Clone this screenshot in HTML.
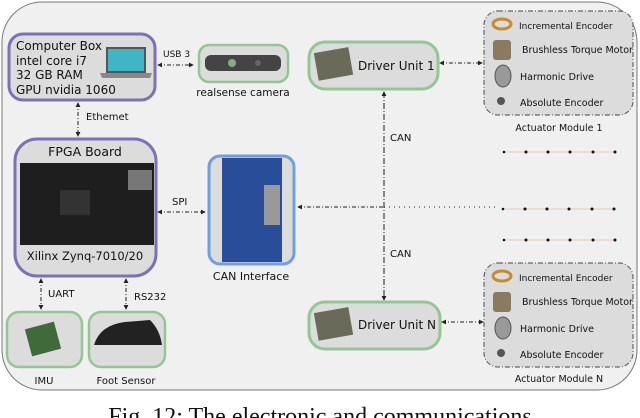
<!DOCTYPE html>
<html><head><meta charset="utf-8"><style>
html,body{margin:0;padding:0;background:#fff;width:640px;height:418px;overflow:hidden}
svg{display:block}
text{font-family:"DejaVu Sans","Liberation Sans",sans-serif;fill:#111}
</style></head><body>
<svg width="640" height="418" viewBox="0 0 640 418" xmlns="http://www.w3.org/2000/svg">
<defs>
<marker id="a" viewBox="0 0 6 6" refX="5" refY="3" markerWidth="5" markerHeight="5" orient="auto-start-reverse"><path d="M0,0L6,3L0,6z" fill="#222"/></marker>
</defs>
<rect x="2" y="2" width="635" height="388" rx="40" fill="#f0f0f0" stroke="#777" stroke-width="1"/>

<rect x="9" y="34" width="146" height="66" rx="14" fill="#dcdcdc" stroke="#7d70b5" stroke-width="3"/>
<text x="16" y="50" font-size="12" textLength="86" lengthAdjust="spacingAndGlyphs">Computer Box</text>
<text x="16" y="65" font-size="12">intel core i7</text>
<text x="16" y="79" font-size="12">32 GB RAM</text>
<text x="16" y="94" font-size="12">GPU nvidia 1060</text>
<rect x="106" y="47" width="40" height="26" fill="#555"/>
<rect x="108" y="49" width="36" height="22" fill="#3fb5c6"/>
<path d="M100,73L152,73L150,78L102,78z" fill="#888"/>
<text x="163" y="57" font-size="9">USB 3</text>
<line x1="158" y1="65" x2="193" y2="65" stroke="#222" stroke-dasharray="4,2,1,2" marker-start="url(#a)" marker-end="url(#a)"/>
<rect x="199" y="45" width="89" height="37" rx="10" fill="#dcdcdc" stroke="#94c694" stroke-width="2.5"/>
<rect x="205" y="55" width="76" height="16" rx="6" fill="#444"/>
<circle cx="232" cy="63" r="4" fill="#8a8"/><circle cx="258" cy="63" r="3" fill="#666"/>
<text x="243" y="96" font-size="10.5" text-anchor="middle">realsense camera</text>

<line x1="78" y1="103" x2="78" y2="136" stroke="#222" stroke-dasharray="4,2,1,2" marker-start="url(#a)" marker-end="url(#a)"/>
<text x="86" y="120" font-size="10">Ethemet</text>

<rect x="15" y="139" width="141" height="137" rx="22" fill="#dcdcdc" stroke="#7d70b5" stroke-width="3"/>
<text x="85" y="156" font-size="12.5" text-anchor="middle">FPGA Board</text>
<rect x="20" y="163" width="134" height="82" fill="#1e1e1e"/>
<rect x="60" y="190" width="30" height="25" fill="#333"/>
<rect x="128" y="170" width="24" height="20" fill="#777"/>
<text x="85" y="260" font-size="11.5" text-anchor="middle">Xilinx Zynq-7010/20</text>
<text x="172" y="205" font-size="10">SPI</text>
<line x1="158" y1="212" x2="205" y2="212" stroke="#222" stroke-dasharray="4,2,1,2" marker-start="url(#a)" marker-end="url(#a)"/>

<rect x="209" y="156" width="85" height="108" rx="11" fill="#dcdcdc" stroke="#6e9fe0" stroke-width="3"/>
<rect x="222" y="158" width="60" height="104" fill="#2a4d9a"/>
<rect x="264" y="185" width="16" height="40" fill="#999"/>
<text x="251" y="280" font-size="11" text-anchor="middle">CAN Interface</text>

<line x1="298" y1="207" x2="384" y2="207" stroke="#222" stroke-dasharray="4,2,1,2" marker-start="url(#a)"/>
<line x1="384" y1="207" x2="495" y2="207" stroke="#222" stroke-dasharray="1,4"/>
<line x1="384" y1="92" x2="384" y2="300" stroke="#222" stroke-dasharray="6,2,1,2" marker-start="url(#a)" marker-end="url(#a)"/>
<text x="390" y="141" font-size="10">CAN</text>
<text x="390" y="257" font-size="10">CAN</text>

<rect x="309" y="42" width="129" height="47" rx="16" fill="#dcdcdc" stroke="#94c694" stroke-width="3"/>
<rect x="316" y="50" width="35" height="28" fill="#6a6a5a" transform="rotate(-10 333 64)"/>
<text x="358" y="70" font-size="12">Driver Unit 1</text>
<line x1="440" y1="63" x2="482" y2="63" stroke="#222" stroke-dasharray="4,2,1,2" marker-start="url(#a)" marker-end="url(#a)"/>
<rect x="309" y="302" width="131" height="47" rx="16" fill="#dcdcdc" stroke="#94c694" stroke-width="3"/>
<rect x="316" y="310" width="35" height="28" fill="#6a6a5a" transform="rotate(-10 333 324)"/>
<text x="358" y="329" font-size="12">Driver Unit N</text>
<line x1="442" y1="322" x2="483" y2="322" stroke="#222" stroke-dasharray="4,2,1,2" marker-start="url(#a)" marker-end="url(#a)"/>

<g id="m1">
<rect x="484" y="11" width="149" height="104" rx="14" fill="#dcdcdc" stroke="#666" stroke-width="1.2" stroke-dasharray="5,2,1,2"/>
<ellipse cx="502" cy="24" rx="9" ry="5" fill="none" stroke="#c88a30" stroke-width="3"/>
<rect x="493" y="40" width="18" height="20" rx="3" fill="#8a7a60"/>
<ellipse cx="503" cy="76" rx="8" ry="11" fill="#999" stroke="#555"/>
<circle cx="501" cy="101" r="4" fill="#555"/>
<text x="519" y="29" font-size="9">Incremental Encoder</text>
<text x="522" y="53" font-size="9.5">Brushless Torque Motor</text>
<text x="520" y="80" font-size="9.5">Harmonic Drive</text>
<text x="520" y="106" font-size="9.5">Absolute Encoder</text>
</g>
<text x="559" y="131" font-size="9.5" text-anchor="middle">Actuator Module  1</text>
<use href="#m1" transform="translate(0,252)"/>
<text x="559" y="382" font-size="9.5" text-anchor="middle">Actuator Module  N</text>

<g stroke="#e8c8b8" stroke-width="1"><line x1="504" y1="152" x2="615" y2="152"/><line x1="503" y1="209" x2="614" y2="209"/><line x1="504" y1="240" x2="615" y2="240"/></g>
<g fill="#111">
<circle cx="504" cy="152" r="1.3"/><circle cx="526" cy="152" r="1.5"/><circle cx="548" cy="152" r="1.5"/><circle cx="570" cy="152" r="1.5"/><circle cx="593" cy="152" r="1.5"/><circle cx="615" cy="152" r="1.5"/>
<circle cx="503" cy="209" r="1.3"/><circle cx="525" cy="209" r="1.5"/><circle cx="547" cy="209" r="1.5"/><circle cx="569" cy="209" r="1.5"/><circle cx="592" cy="209" r="1.5"/><circle cx="614" cy="209" r="1.5"/>
<circle cx="504" cy="240" r="1.3"/><circle cx="526" cy="240" r="1.5"/><circle cx="548" cy="240" r="1.5"/><circle cx="570" cy="240" r="1.5"/><circle cx="593" cy="240" r="1.5"/><circle cx="615" cy="240" r="1.5"/>
</g>

<line x1="41" y1="279" x2="41" y2="309" stroke="#222" stroke-dasharray="4,2,1,2" marker-start="url(#a)" marker-end="url(#a)"/>
<text x="48" y="297" font-size="10">UART</text>
<line x1="126" y1="279" x2="126" y2="309" stroke="#222" stroke-dasharray="4,2,1,2" marker-start="url(#a)" marker-end="url(#a)"/>
<text x="134" y="300" font-size="10">RS232</text>
<rect x="7" y="312" width="75" height="55" rx="12" fill="#dcdcdc" stroke="#94c694" stroke-width="2.5"/>
<rect x="28" y="325" width="30" height="28" fill="#3f6a3a" transform="rotate(-15 43 339)"/>
<rect x="89" y="312" width="76" height="55" rx="12" fill="#dcdcdc" stroke="#94c694" stroke-width="2.5"/>
<path d="M94,345 Q100,325 125,322 L150,320 Q160,330 162,345 Z" fill="#222"/>
<text x="44" y="384" font-size="10" text-anchor="middle">IMU</text>
<text x="126" y="384" font-size="10" text-anchor="middle">Foot Sensor</text>

<text x="320" y="424" font-size="24" text-anchor="middle" style="font-family:'Liberation Serif',serif">Fig. 12: The electronic and communications</text>
</svg>
</body></html>
